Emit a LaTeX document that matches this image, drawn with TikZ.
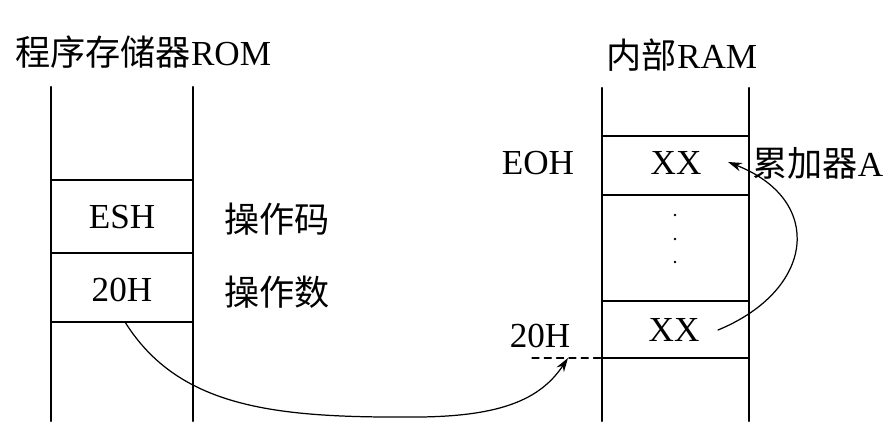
\documentclass[tikz,border=0pt]{standalone}
\usepackage{fontspec}
\setmainfont{Liberation Serif}
\newfontfamily\cjk{Noto Sans CJK SC}
\usetikzlibrary{arrows.meta}
\begin{document}
\begin{tikzpicture}[x=0.02cm,y=-0.02cm,>={Stealth[length=8pt,width=5pt]},line join=round,line cap=round,font=\fontsize{20}{24}\selectfont]
\tikzset{wall/.style={line width=1.3pt},
	cell/.style={inner sep=0pt},
	link/.style={line width=0.7pt,->}}
\useasboundingbox (0,0) rectangle (895,443);
% ROM
\draw[wall] (51,87)--(51,421) (193,87)--(193,421);
\foreach \y in {180,253,322}
	\draw[wall] (51,\y)--(193,\y);
\node[cell,anchor=west] (romtitle) at (15,52) {{\cjk 程序存储器}ROM};
\node[cell] (esh) at (122,217) {ESH};
\node[cell] (opnd) at (122,290) {20H};
\node[cell,anchor=west] (opcodelbl) at (224,219) {\cjk 操作码};
\node[cell,anchor=west] (opndlbl) at (224,292) {\cjk 操作数};
% RAM
\draw[wall] (602,88)--(602,421) (749,88)--(749,421);
\foreach \y in {136,195,301,358}
	\draw[wall] (602,\y)--(749,\y);
\node[cell] (ramtitle) at (682,55) {{\cjk 内部}RAM};
\node[cell] (eoh) at (538,163) {EOH};
\node[cell] (accxx) at (676,163) {XX};
\node[cell,anchor=west] (acclbl) at (752,163) {{\cjk 累加器}A};
\foreach \y in {215,239,262}
	\fill (675,\y) circle (1.4);
\node[cell] (srcxx) at (674,330) {XX};
\node[cell] (addr) at (540,336) {20H};
\draw[line width=0.7pt,dash pattern=on 4pt off 3pt] (532,358)--(602,358);
% connectors
\path (125,322) coordinate (romout) (568,358) coordinate (addrin)
	(718,330) coordinate (srcout) (728,162) coordinate (accin);
\draw[link] (romout) .. controls (180,410) and (280,418) .. (420,417)
	.. controls (500,416) and (540,400) .. (addrin);
\draw[link] (srcout) .. controls (815,290) and (825,200) .. (accin);
\end{tikzpicture}
\end{document}
